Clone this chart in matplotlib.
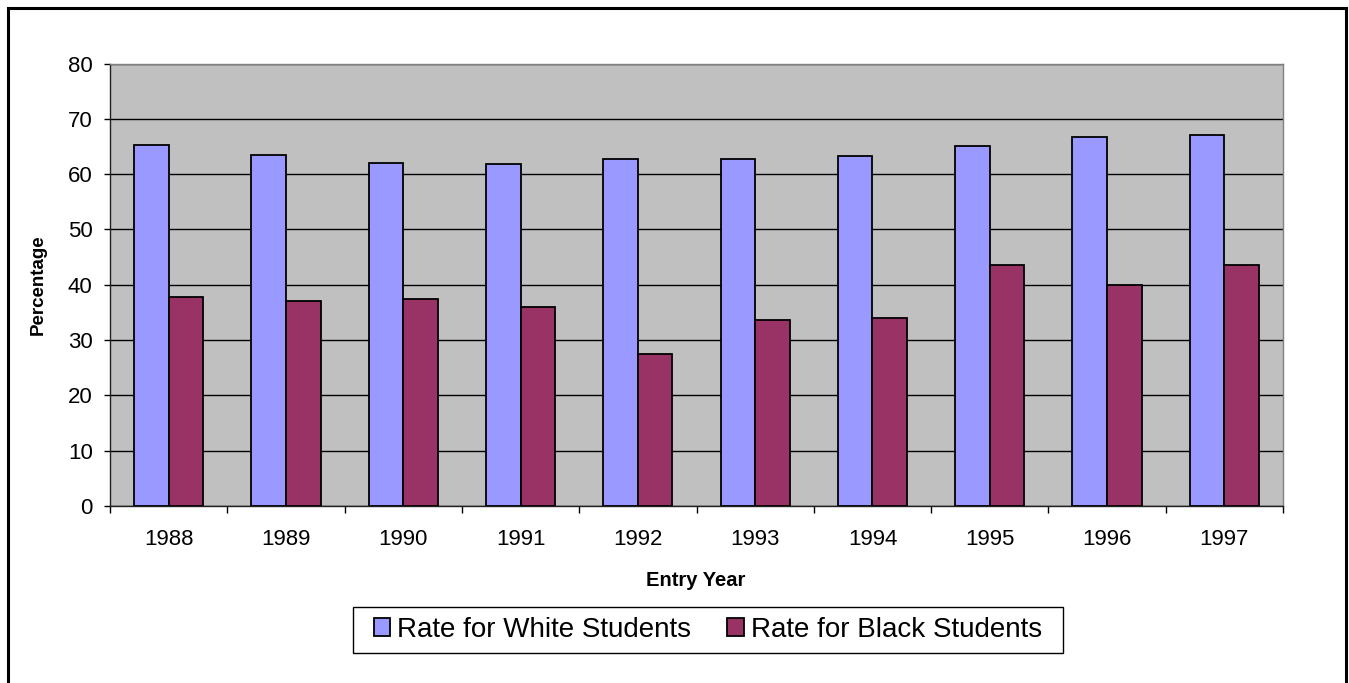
import matplotlib
matplotlib.use("Agg")
import matplotlib.pyplot as plt
import matplotlib.patches as mpatches
import numpy as np

plt.rcParams['font.family'] = ['Liberation Sans', 'DejaVu Sans']

# Data
years = ['1988', '1989', '1990', '1991', '1992', '1993', '1994', '1995', '1996', '1997']
white_rate = [65.3, 63.5, 62.1, 61.8, 62.8, 62.8, 63.2, 65.0, 66.7, 67.1]
black_rate = [37.8, 37.1, 37.4, 36.0, 27.4, 33.6, 33.9, 43.5, 40.0, 43.5]

WHITE_COLOR = '#9999FF'
BLACK_COLOR = '#993366'

W, H = 1349, 683
fig = plt.figure(figsize=(W / 100, H / 100), dpi=100)

# plot area in pixel terms: x 110..1283, y 63.5..506
ax = fig.add_axes([110 / W, 1 - 506 / H, 1173 / W, 442.5 / H])

x = np.arange(len(years))
w = 0.295
ax.bar(x - w / 2, white_rate, width=w, color=WHITE_COLOR, edgecolor='black',
       linewidth=1.3, label='Rate for White Students', zorder=3)
ax.bar(x + w / 2, black_rate, width=w, color=BLACK_COLOR, edgecolor='black',
       linewidth=1.3, label='Rate for Black Students', zorder=3)

ax.set_facecolor('#C0C0C0')
ax.set_xlim(-0.5, len(years) - 0.5)
ax.set_ylim(0, 80)
ax.set_yticks(range(0, 81, 10))
ax.yaxis.grid(True, color='black', linewidth=1)
ax.set_axisbelow(True)

ax.set_xticks(x)
ax.set_xticklabels(years, fontsize=16)
ax.set_xticks(np.arange(-0.5, len(years)), minor=True)
ax.tick_params(axis='x', which='major', length=0, pad=16.5)
ax.tick_params(axis='x', which='minor', length=5, color='black', width=1)
ax.tick_params(axis='y', labelsize=16, length=4.5, width=1, color='black', pad=8)

for side in ['top', 'right']:
    ax.spines[side].set_color('#808080')
    ax.spines[side].set_linewidth(1)
for side in ['left', 'bottom']:
    ax.spines[side].set_color('#202020')
    ax.spines[side].set_linewidth(1)

# axis titles
fig.text(696 / W, 1 - 580 / H, 'Entry Year', fontsize=14.5, fontweight='bold',
         ha='center', va='center')
fig.text(38.5 / W, 1 - 285 / H, 'Percentage', fontsize=13.5, fontweight='bold',
         rotation=90, ha='center', va='center')

# legend without frame, box drawn separately
leg = fig.legend(loc='center', bbox_to_anchor=(708 / W, 1 - 630 / H), ncol=2, fontsize=20,
                 frameon=False, handlelength=0.6, handleheight=0.6,
                 handletextpad=0.25, columnspacing=1.3, borderpad=0)
for h in leg.legend_handles:
    h.set_linewidth(1.3)
fig.patches.append(mpatches.Rectangle((353 / W, 1 - 653 / H), 710 / W, 46 / H,
                                      transform=fig.transFigure, fill=False,
                                      edgecolor='black', linewidth=1))

# outer border of the chart area (bottom edge runs off the image)
fig.patches.append(mpatches.Rectangle((7.5 / W, -10 / H), 1338 / W, 685 / H,
                                      transform=fig.transFigure, fill=False,
                                      edgecolor='black', linewidth=2.2))

plt.savefig('out.png', dpi=100)
